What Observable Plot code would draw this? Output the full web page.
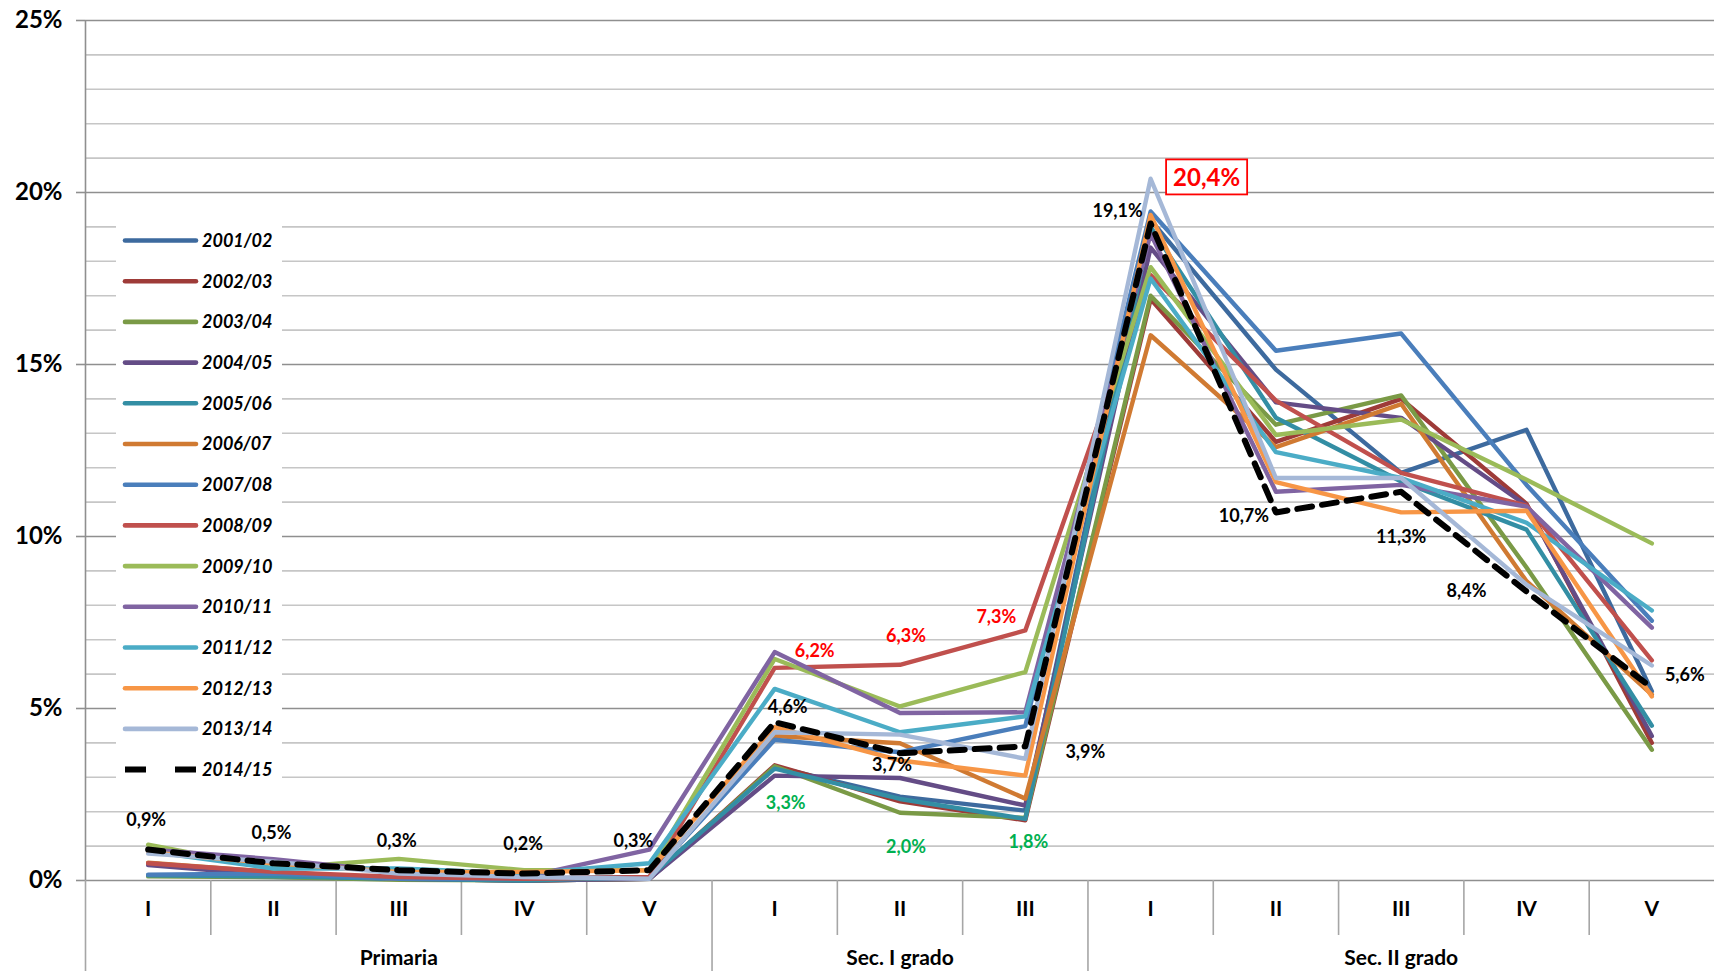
<!DOCTYPE html>
<html><head><meta charset="utf-8">
<script src="https://cdn.jsdelivr.net/npm/d3@7"></script>
<script src="https://cdn.jsdelivr.net/npm/@observablehq/plot@0.6"></script>
<style>
html,body{margin:0;padding:0;background:#fff;overflow:hidden}
#chart{position:relative;width:1714px;height:971px}
</style>
</head><body><div id="chart"></div>
<script>
// ---------- data ----------
const levels = ["Primaria","Primaria","Primaria","Primaria","Primaria","Sec. I grado","Sec. I grado","Sec. I grado","Sec. II grado","Sec. II grado","Sec. II grado","Sec. II grado","Sec. II grado"];
const classes = ["I","II","III","IV","V","I","II","III","I","II","III","IV","V"];
const years = ["2001/02","2002/03","2003/04","2004/05","2005/06","2006/07","2007/08","2008/09","2009/10","2010/11","2011/12","2012/13","2013/14","2014/15"];
const colors = ["#3D6A9E","#9E3B38","#7A9A46","#644C86","#338EA4","#D07A32","#4A7EBB","#C0504D","#9BBB59","#8064A2","#4BACC6","#F79646","#A5B8D7","#000000"];
const yTicks = [0,5,10,15,20,25];

const s0102 = [0.15,0.10,0.05,0.00,0.05, 3.30,2.44,2.03, 19.20,14.85,11.85,13.10,5.50];
const s0203 = [0.50,0.20,0.05,0.00,0.05, 3.35,2.30,1.75, 16.90,12.75,14.00,10.95,4.00];
const s0304 = [0.12,0.10,0.02,0.00,0.05, 3.32,1.97,1.82, 17.00,13.25,14.10,9.10,3.80];
const s0405 = [0.45,0.15,0.05,0.00,0.05, 3.05,2.98,2.18, 18.40,13.90,13.45,10.90,4.20];
const s0506 = [0.15,0.12,0.05,0.00,0.10, 3.25,2.37,1.79, 19.00,13.45,11.60,10.20,4.50];
const s0607 = [0.52,0.25,0.05,0.05,0.10, 4.20,3.99,2.38, 15.85,12.60,13.85,8.70,5.40];
const s0708 = [0.17,0.20,0.05,0.05,0.10, 4.09,3.73,4.49, 19.45,15.40,15.90,11.50,7.55];
const s0809 = [0.50,0.25,0.10,0.05,0.10, 6.18,6.27,7.27, 17.60,13.95,11.85,10.90,6.40];
const s0910 = [1.04,0.35,0.63,0.30,0.30, 6.44,5.06,6.06, 17.83,12.95,13.40,11.65,9.80];
const s1011 = [0.90,0.62,0.25,0.10,0.90, 6.64,4.87,4.89, 18.80,11.30,11.50,10.87,7.35];
const s1112 = [0.85,0.35,0.35,0.20,0.50, 5.57,4.31,4.77, 17.50,12.45,11.70,10.40,7.85];
const s1213 = [0.82,0.50,0.25,0.25,0.30, 4.46,3.49,3.05, 19.35,11.58,10.70,10.75,5.35];
const s1314 = [0.78,0.55,0.20,0.10,0.05, 4.31,4.24,3.54, 20.40,11.70,11.70,8.60,6.25];
const s1415 = [0.90,0.50,0.30,0.20,0.30, 4.60,3.70,3.90, 19.10,10.70,11.30,8.40,5.60];
const seriesValues = [s0102,s0203,s0304,s0405,s0506,s0607,s0708,s0809,s0910,s1011,s1112,s1213,s1314,s1415];

// ---------- derived tables ----------
const rows = years.flatMap((yr, k) => seriesValues[k].map((v, i) => ({year: yr, i, v})));
const solidRows = rows.filter(d => d.year !== "2014/15");
const dashedRows = rows.filter(d => d.year === "2014/15");
const idx = d3.range(classes.length);
const catBounds = idx.slice(1).filter(i => levels[i] === levels[i-1]).map(i => i - 0.5);
const groupBounds = [-0.5, ...idx.slice(1).filter(i => levels[i] !== levels[i-1]).map(i => i - 0.5)];
const groupNames = Array.from(new Set(levels));
const groupCenters = groupNames.map(g => { const ii = idx.filter(i => levels[i] === g); return (ii[0] + ii[ii.length-1]) / 2; });
const fmt = v => v.toFixed(1).replace(".", ",") + "%";

// label styling (offsets in px)
const blackOff = [[-2,-29],[-2,-30],[-2,-29],[-1,-29],[-16,-29],[13,-15],[-8,12],[60,6],[-33,-12],[-32,4],[0,45],[-60,0],[33,-13]];
const redIdx = [5,6,7], redOff = [[40,-17],[6,-29],[-29,-13]];
const greenIdx = [5,6,7], greenOff = [[11,37],[6,35],[3,24]];

const FONT = "Lato, 'Open Sans', sans-serif";
const labelFont = {fontSize: 18, fontWeight: "bold"};
const marks = [
  Plot.ruleY(d3.range(1, 26), {y: d => d, stroke: d => d % 5 === 0 ? "#8f8f8f" : "#c6c6c6", strokeWidth: 1.6}),
  Plot.ruleY([0], {stroke: "#8f8f8f", strokeWidth: 1.6}),
  Plot.ruleX([-0.5], {y1: 0, y2: 25, stroke: "#8f8f8f", strokeWidth: 1.6}),
  Plot.axisY(yTicks, {anchor: "left", label: null, tickSize: 9, tickPadding: 14, tickFormat: d => d + "%", fontSize: 24, fontWeight: "bold", stroke: "#8f8f8f", strokeWidth: 1.6, fill: "black"}),
  Plot.axisX(catBounds, {anchor: "bottom", label: null, tickSize: 55, tickFormat: () => "", stroke: "#a6a6a6", strokeWidth: 1.6}),
  Plot.axisX(groupBounds, {anchor: "bottom", label: null, tickSize: 91, tickFormat: () => "", stroke: "#a6a6a6", strokeWidth: 1.6}),
  Plot.axisX(idx, {anchor: "bottom", label: null, tickSize: 0, tickPadding: 21, tickFormat: i => classes[i], fontSize: 21, fontWeight: "bold", fill: "black"}),
  Plot.axisX(groupCenters, {anchor: "bottom", label: null, tickSize: 0, tickPadding: 70, tickFormat: c => groupNames[groupCenters.indexOf(c)], fontSize: 21, fontWeight: "bold", fill: "black"}),
  Plot.line(solidRows, {x: "i", y: "v", z: "year", stroke: "year", strokeWidth: 4.4, strokeLinejoin: "round", strokeLinecap: "round"}),
  Plot.line(dashedRows, {x: "i", y: "v", stroke: "#000", strokeWidth: 6, strokeDasharray: "15,10", strokeLinejoin: "round"}),
];
idx.forEach(i => marks.push(Plot.text([i], {x: d => d, y: d => s1415[d], text: d => fmt(s1415[d]), dx: blackOff[i][0], dy: blackOff[i][1], fill: "black", ...labelFont})));
redIdx.forEach((i, k) => marks.push(Plot.text([i], {x: d => d, y: d => s0809[d], text: d => fmt(s0809[d]), dx: redOff[k][0], dy: redOff[k][1], fill: "#FF0000", ...labelFont})));
greenIdx.forEach((i, k) => marks.push(Plot.text([i], {x: d => d, y: d => s0304[d], text: d => fmt(s0304[d]), dx: greenOff[k][0], dy: greenOff[k][1], fill: "#00B050", ...labelFont})));
const peakI = d3.maxIndex(s1314);
const peakText = fmt(s1314[peakI]);
marks.push(Plot.text([peakI], {x: d => d, y: d => s1314[d], text: d => fmt(s1314[d]), dx: 56, dy: 0, fill: "#FF0000", fontSize: 24, fontWeight: "bold"}));

const chart = Plot.plot({
  width: 1714, height: 971,
  marginLeft: 85, marginRight: 0, marginTop: 20, marginBottom: 91,
  x: {type: "linear", domain: [-0.5, 12.5], axis: null},
  y: {domain: [0, 25], axis: null},
  color: {domain: years, range: colors},
  style: {fontFamily: FONT, background: "white", overflow: "visible"},
  marks
});
document.getElementById("chart").appendChild(chart);

// red box around the maximum label
const svg = d3.select(chart);
svg.selectAll("text").filter(function(){ return this.textContent === peakText; })
  .each(function(){
    const b = this.getBBox();
    const t = this.getAttribute("transform");
    d3.select(this.parentNode).insert("rect", () => this)
      .attr("x", b.x - 7).attr("y", b.y - 3).attr("width", b.width + 14).attr("height", b.height + 6)
      .attr("transform", t).attr("fill", "white").attr("stroke", "#FF0000").attr("stroke-width", 1.8);
  });

// ---------- legend (inside plot area) ----------
const lg = svg.append("g").attr("transform", "translate(116,200)");
lg.append("rect").attr("width", 166).attr("height", 592).attr("fill", "white");
years.forEach((yr, k) => {
  const y = 40.5 + k * 40.7;
  const dashed = yr === "2014/15";
  lg.append("line").attr("x1", 9).attr("x2", 80).attr("y1", y).attr("y2", y)
    .attr("stroke", colors[k]).attr("stroke-width", dashed ? 6 : 4.6)
    .attr("stroke-linecap", dashed ? "butt" : "round")
    .attr("stroke-dasharray", dashed ? "21,29" : null);
  lg.append("text").attr("x", 86).attr("y", y).attr("dy", "0.36em")
    .attr("text-anchor", "start").attr("fill", "black")
    .attr("font-family", FONT).attr("font-size", 18)
    .attr("font-weight", "bold").attr("font-style", "italic").text(yr);
});
</script>
</body></html>
